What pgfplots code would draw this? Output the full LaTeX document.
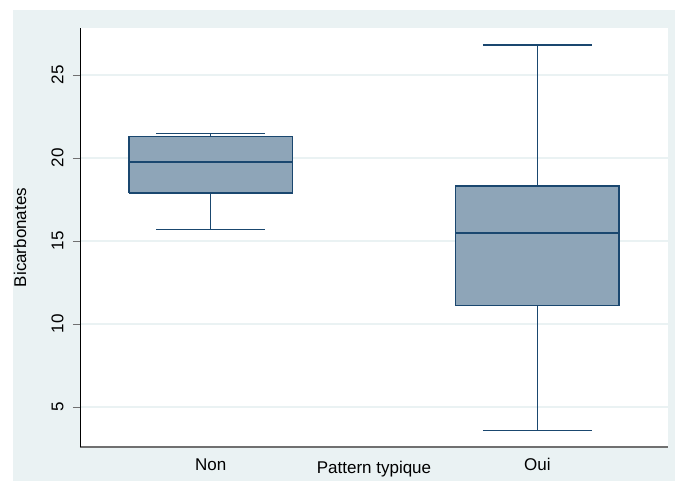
\documentclass[border=0pt]{standalone}
\usepackage{pgfplots}
\pgfplotsset{compat=1.18}
\usepackage{fontspec}
\setmainfont{Liberation Sans}
\definecolor{bgc}{HTML}{EAF2F3}
\definecolor{boxfill}{HTML}{8EA5B8}
\definecolor{boxline}{HTML}{1A476F}
\definecolor{axgray}{HTML}{707070}
\begin{document}
\begin{tikzpicture}
\fill[white] (-80pt,-34pt) rectangle (595pt,447pt);
\fill[bgc] (-67.3pt,-34pt) rectangle (595pt,437pt);
\begin{axis}[
  at={(0pt,0pt)}, anchor=south west,
  scale only axis, width=588pt, height=419pt,
  xmin=0.6, xmax=2.4, ymin=2.59, ymax=27.83,
  axis x line*=bottom, axis y line*=left,
  x axis line style={axgray, line width=1.3pt, -},
  y axis line style={black, line width=0.9pt, -},
  axis background/.style={fill=white},
  font=\fontsize{17}{20}\selectfont,
  /pgf/number format/assume math mode=true,
  xtick={1,2}, xticklabels={Non,Oui},
  x tick style={draw=none},
  ytick={5,10,15,20,25},
  tick align=outside,
  y tick style={axgray, line width=0.9pt},
  major tick length=7pt,
  yticklabel style={rotate=90, anchor=south, yshift=6pt},
  xticklabel style={anchor=base, yshift=-17pt},
  ymajorgrids,
  grid style={bgc, line width=1.5pt},
  xlabel={Pattern typique},
  xlabel style={at={(axis description cs:0.5,0)}, anchor=base, yshift=-27pt},
  ylabel={Bicarbonates},
  ylabel style={at={(axis description cs:0,0.5)}, anchor=center, yshift=60pt},
  line join=miter,
]
% Non: whiskers 15.70 / 21.49, quartiles 17.89 / 21.29, median 19.74
\addplot[boxline, line width=1.3pt, unbounded coords=jump] coordinates {
  (1,21.29) (1,21.49) (nan,nan) (0.8335,21.49) (1.1665,21.49) (nan,nan)
  (1,17.89) (1,15.70) (nan,nan) (0.8335,15.70) (1.1665,15.70)};
\addplot[draw=boxline, fill=boxfill, line width=1.3pt] coordinates {
  (0.75,17.89) (1.25,17.89) (1.25,21.29) (0.75,21.29) (0.75,17.89)};
\addplot[boxline, line width=1.6pt] coordinates {(0.75,19.74) (1.25,19.74)};
% Oui: whiskers 3.60 / 26.81, quartiles 11.11 / 18.31, median 15.48
\addplot[boxline, line width=1.3pt, unbounded coords=jump] coordinates {
  (2,18.31) (2,26.81) (nan,nan) (1.8335,26.81) (2.1665,26.81) (nan,nan)
  (2,11.11) (2,3.60) (nan,nan) (1.8335,3.60) (2.1665,3.60)};
\addplot[draw=boxline, fill=boxfill, line width=1.3pt] coordinates {
  (1.75,11.11) (2.25,11.11) (2.25,18.31) (1.75,18.31) (1.75,11.11)};
\addplot[boxline, line width=1.6pt] coordinates {(1.75,15.48) (2.25,15.48)};
\end{axis}
\end{tikzpicture}
\end{document}
